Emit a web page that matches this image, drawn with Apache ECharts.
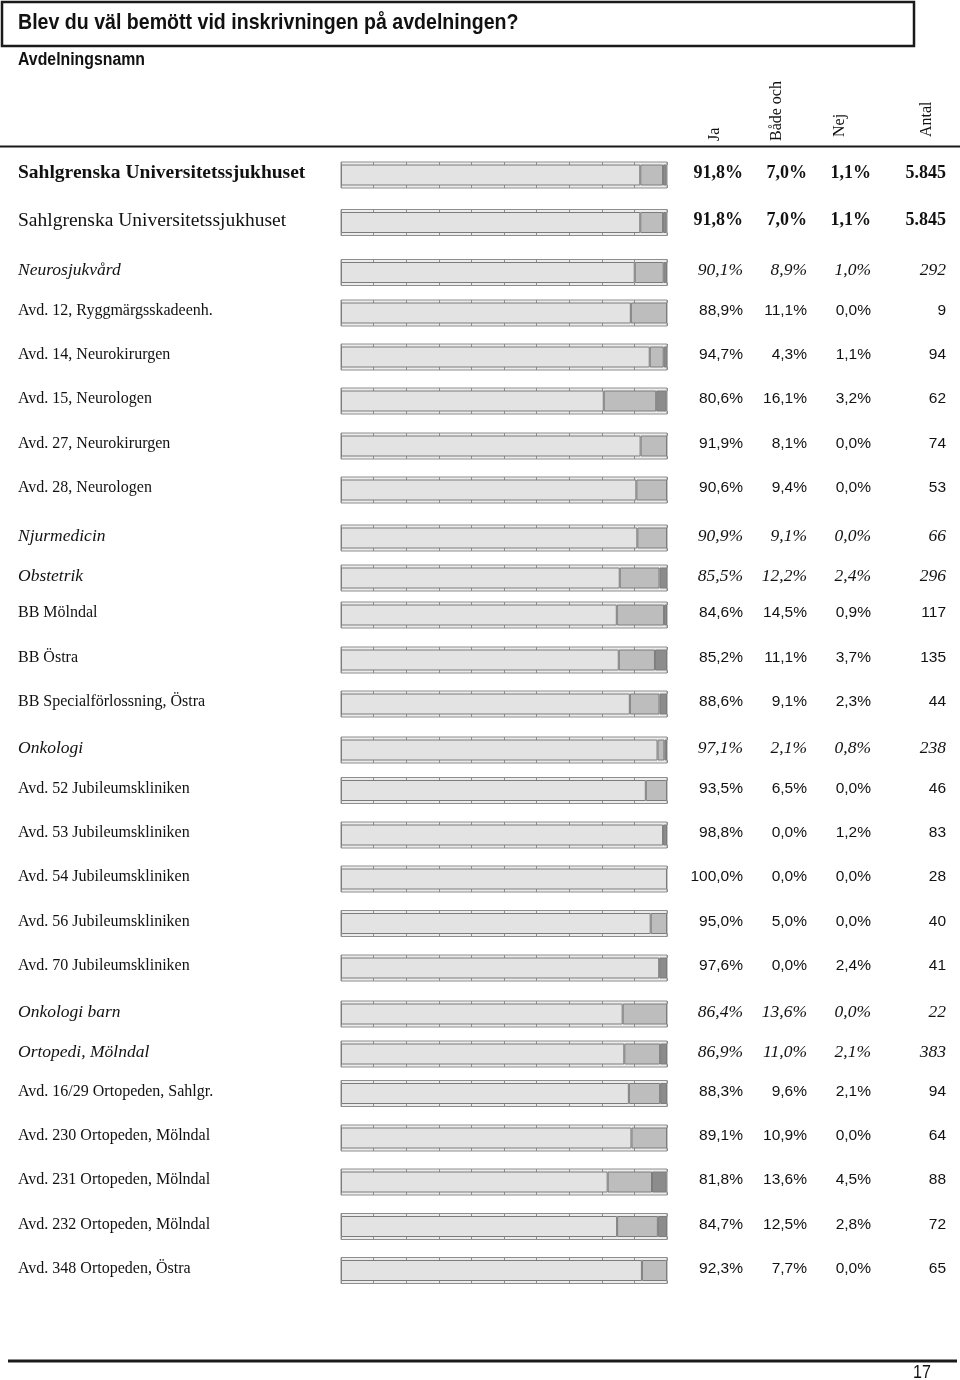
<!DOCTYPE html>
<html>
<head>
<meta charset="utf-8">
<script src="https://cdn.jsdelivr.net/npm/echarts@6/dist/echarts.min.js"></script>
<style>
  html, body { margin: 0; padding: 0; background: #fff; }
  #chart { width: 960px; height: 1380px; }
</style>
</head>
<body>
<div id="chart"></div>
<script>
// rader i tabellen
var avdelningar = [
  'Sahlgrenska Universitetssjukhuset',
  'Sahlgrenska Universitetssjukhuset',
  'Neurosjukvård',
  'Avd. 12, Ryggmärgsskadeenh.',
  'Avd. 14, Neurokirurgen',
  'Avd. 15, Neurologen',
  'Avd. 27, Neurokirurgen',
  'Avd. 28, Neurologen',
  'Njurmedicin',
  'Obstetrik',
  'BB Mölndal',
  'BB Östra',
  'BB Specialförlossning, Östra',
  'Onkologi',
  'Avd. 52 Jubileumskliniken',
  'Avd. 53 Jubileumskliniken',
  'Avd. 54 Jubileumskliniken',
  'Avd. 56 Jubileumskliniken',
  'Avd. 70 Jubileumskliniken',
  'Onkologi barn',
  'Ortopedi, Mölndal',
  'Avd. 16/29 Ortopeden, Sahlgr.',
  'Avd. 230 Ortopeden, Mölndal',
  'Avd. 231 Ortopeden, Mölndal',
  'Avd. 232 Ortopeden, Mölndal',
  'Avd. 348 Ortopeden, Östra'
];
// total / sjukhus / grupp / avd
var radTyp = ['total', 'sjukhus', 'grupp', 'avd', 'avd', 'avd', 'avd', 'avd',
  'grupp', 'grupp', 'avd', 'avd', 'avd', 'grupp', 'avd', 'avd', 'avd', 'avd', 'avd',
  'grupp', 'grupp', 'avd', 'avd', 'avd', 'avd', 'avd'];

var ja      = [91.8, 91.8, 90.1, 88.9, 94.7, 80.6, 91.9, 90.6, 90.9, 85.5, 84.6, 85.2, 88.6,
               97.1, 93.5, 98.8, 100.0, 95.0, 97.6, 86.4, 86.9, 88.3, 89.1, 81.8, 84.7, 92.3];
var badeOch = [7.0, 7.0, 8.9, 11.1, 4.3, 16.1, 8.1, 9.4, 9.1, 12.2, 14.5, 11.1, 9.1,
               2.1, 6.5, 0.0, 0.0, 5.0, 0.0, 13.6, 11.0, 9.6, 10.9, 13.6, 12.5, 7.7];
var nej     = [1.1, 1.1, 1.0, 0.0, 1.1, 3.2, 0.0, 0.0, 0.0, 2.4, 0.9, 3.7, 2.3,
               0.8, 0.0, 1.2, 0.0, 0.0, 2.4, 0.0, 2.1, 2.1, 0.0, 4.5, 2.8, 0.0];
var antal   = ['5.845', '5.845', '292', '9', '94', '62', '74', '53', '66', '296', '117', '135', '44',
               '238', '46', '83', '28', '40', '41', '22', '383', '94', '64', '88', '72', '65'];

var kolumner = ['Ja', 'Både och', 'Nej', 'Antal'];

// layout: radernas mitt i y-led
var radMitt = [175, 222.5, 272.5, 313, 357, 401, 446, 490, 538, 578, 615, 660, 704,
               750, 790.5, 835, 879, 923.5, 968, 1014, 1054, 1093.5, 1138, 1182, 1226.5, 1270.5];

var serif = '"Liberation Serif", "Times New Roman", serif';
var sans = '"Liberation Sans", Arial, sans-serif';

var fontStil = {
  total:   { label: ['bold', 'normal', 19.5, serif], tal: ['bold', 'normal', 18, serif] },
  sjukhus: { label: ['normal', 'normal', 19.5, serif], tal: ['bold', 'normal', 18, serif] },
  grupp:   { label: ['normal', 'italic', 17.5, serif], tal: ['normal', 'italic', 17.5, serif] },
  avd:     { label: ['normal', 'normal', 16, serif], tal: ['normal', 'normal', 15.5, sans] }
};

function pct(v) {
  return v.toFixed(1).replace('.', ',') + '%';
}

function text(x, y, str, f, align, extra) {
  var el = {
    type: 'text', x: x, y: y, silent: true,
    style: {
      text: str, fill: '#111', align: align || 'left', verticalAlign: 'middle',
      fontWeight: f[0], fontStyle: f[1], fontSize: f[2], fontFamily: f[3]
    }
  };
  if (extra) Object.assign(el, extra);
  return el;
}

var grids = [], xAxes = [], yAxes = [], series = [];
var graphics = [];

var delar = [
  ['Ja', ja, '#e3e3e3'],
  ['Både och', badeOch, '#bdbdbd'],
  ['Nej', nej, '#8c8c8c']
];
var talX = [743, 807, 871, 946];

avdelningar.forEach(function (namn, i) {
  grids.push({
    left: 341, width: 326, top: radMitt[i] - 13, height: 26,
    show: true, backgroundColor: '#ececec', borderColor: '#8e8e8e', borderWidth: 1
  });
  ['bottom', 'top'].forEach(function (pos) {
    xAxes.push({
      gridIndex: i, type: 'value', min: 0, max: 100, interval: 10, position: pos,
      axisLine: { show: false }, axisLabel: { show: false }, splitLine: { show: false },
      axisTick: { show: true, inside: true, length: 3, lineStyle: { color: '#8e8e8e' } }
    });
  });
  yAxes.push({ gridIndex: i, type: 'category', data: [namn], show: false });

  delar.forEach(function (d) {
    var v = d[1][i];
    series.push({
      name: d[0], type: 'bar', stack: 'rad' + i, xAxisIndex: 2 * i, yAxisIndex: i,
      barWidth: 21, silent: true, animation: false,
      data: [{ value: v, itemStyle: { color: d[2], borderColor: '#7c7c7c', borderWidth: v > 0 ? 1 : 0 } }]
    });
  });

  var stil = fontStil[radTyp[i]];
  var y = radMitt[i] - 2;
  graphics.push(text(18, y, namn, stil.label, 'left'));
  var tal = [pct(ja[i]), pct(badeOch[i]), pct(nej[i]), antal[i]];
  tal.forEach(function (t, k) {
    graphics.push(text(talX[k], y, t, stil.tal, 'right'));
  });
});

// rubrikruta
graphics.push({
  type: 'rect', silent: true,
  shape: { x: 2, y: 2, width: 912, height: 44 },
  style: { fill: '#fff', stroke: '#1a1a1a', lineWidth: 2.5 }
});
// smal fetstil: vanlig Liberation Sans ihoptryckt i x-led
graphics.push(text(18, 23, 'Blev du väl bemött vid inskrivningen på avdelningen?', ['bold', 'normal', 22, sans], 'left', { scaleX: 0.89 }));
graphics.push(text(18, 60, 'Avdelningsnamn', ['bold', 'normal', 18, sans], 'left', { scaleX: 0.88 }));

// kolumnrubriker, roterade
var rubrikX = [715, 777, 840, 927];
var rubrikY = [141, 141, 137, 137];
kolumner.forEach(function (k, j) {
  graphics.push(text(rubrikX[j], rubrikY[j], k, ['normal', 'normal', 16, serif], 'left', { rotation: Math.PI / 2 }));
});

graphics.push({
  type: 'line', silent: true,
  shape: { x1: 0, y1: 146.5, x2: 960, y2: 146.5 },
  style: { stroke: '#1a1a1a', lineWidth: 2 }
});
graphics.push({
  type: 'line', silent: true,
  shape: { x1: 8, y1: 1361, x2: 957, y2: 1361 },
  style: { stroke: '#1a1a1a', lineWidth: 3 }
});
graphics.push(text(913, 1373, '17', ['normal', 'normal', 19, sans], 'left', { scaleX: 0.85 }));

var chart = echarts.init(document.getElementById('chart'));
chart.setOption({
  backgroundColor: '#fff',
  animation: false,
  grid: grids,
  xAxis: xAxes,
  yAxis: yAxes,
  series: series,
  graphic: { elements: graphics }
});
</script>
</body>
</html>
